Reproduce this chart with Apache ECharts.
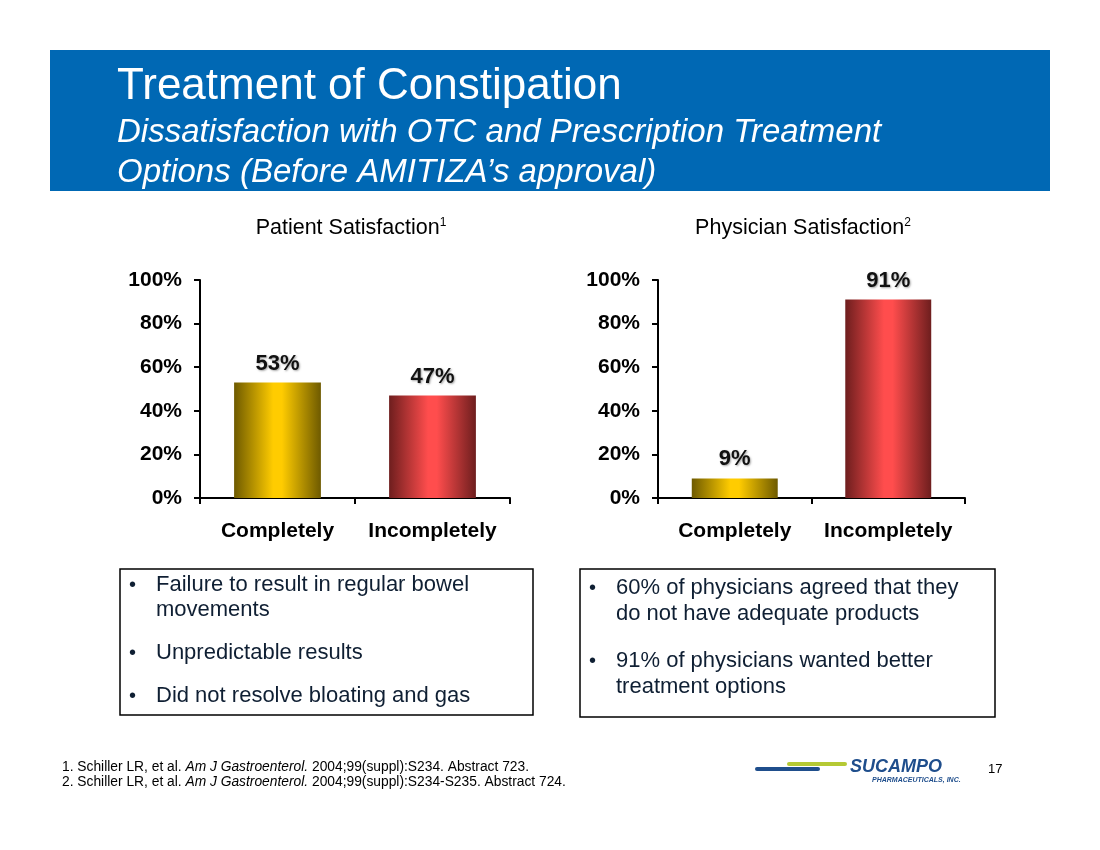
<!DOCTYPE html>
<html><head><meta charset="utf-8">
<script src="https://cdn.jsdelivr.net/npm/echarts@6/dist/echarts.min.js"></script>
<style>html,body{margin:0;padding:0;background:#fff}#c{width:1100px;height:850px}</style>
</head><body><div id="c"></div>
<script>
const categories = ['Completely', 'Incompletely'];
const patientValues = [53, 47];
const physicianValues = [9, 91];
const yTicks = [0, 20, 40, 60, 80, 100];
const patientBullets = ['Failure to result in regular bowel|movements', 'Unpredictable results', 'Did not resolve bloating and gas'];
const physicianBullets = ['60% of physicians agreed that they|do not have adequate products', '91% of physicians wanted better|treatment options'];

const chart = echarts.init(document.getElementById('c'));
const F = 'Arial, "Liberation Sans", sans-serif';
const INK = '#0f1f33';

function grad(edge, mid) {
  return new echarts.graphic.LinearGradient(0, 0, 1, 0, [
    {offset: 0, color: edge}, {offset: 0.45, color: mid}, {offset: 0.55, color: mid}, {offset: 1, color: edge}
  ]);
}
const yellow = grad('#6e5a00', '#ffcc00');
const red = grad('#6e1e1e', '#ff4d4d');

function xAxis(idx) {
  return {
    type: 'category', gridIndex: idx, data: categories,
    axisLine: {lineStyle: {color: '#000', width: 2}},
    axisTick: {show: true, length: 6, lineStyle: {color: '#000', width: 2}},
    axisLabel: {color: '#000', fontFamily: F, fontWeight: 'bold', fontSize: 21, margin: 23, interval: 0, hideOverlap: false}
  };
}
function yAxis(idx) {
  return {
    type: 'value', gridIndex: idx, min: 0, max: 100, interval: 20,
    axisLine: {show: true, lineStyle: {color: '#000', width: 2}},
    axisTick: {show: true, length: 6, lineStyle: {color: '#000', width: 2}},
    splitLine: {show: false},
    axisLabel: {color: '#000', fontFamily: F, fontWeight: 'bold', fontSize: 21, margin: 18,
      formatter: v => yTicks.includes(v) ? v + '%' : ''}
  };
}
function barSeries(idx, vals) {
  return {
    type: 'bar', xAxisIndex: idx, yAxisIndex: idx, barWidth: '56%',
    data: vals.map((v, i) => ({value: v, itemStyle: {color: i === 0 ? yellow : red}})),
    label: {show: true, position: 'top', distance: 8, formatter: '{c}%', color: '#111',
      fontFamily: F, fontWeight: 'bold', fontSize: 22,
      textShadowColor: 'rgba(0,0,0,0.35)', textShadowBlur: 2, textShadowOffsetX: 1, textShadowOffsetY: 1}
  };
}

function bulletBox(x, y, w, h, items, first, lh, gap) {
  const children = [{type: 'rect', shape: {x: x, y: y, width: w, height: h},
    style: {fill: '#fff', stroke: '#000', lineWidth: 1.5}}];
  let ty = first;
  items.forEach((t) => {
    const lines = t.split('|');
    children.push({type: 'text', x: x + 9, y: ty, style: {text: '•', font: '20px ' + F, fill: INK, verticalAlign: 'middle'}});
    lines.forEach((ln, j) => {
      children.push({type: 'text', x: x + 36, y: ty + j * lh, style: {text: ln, font: '22px ' + F, fill: INK, verticalAlign: 'middle'}});
    });
    ty += (lines.length - 1) * lh + gap;
  });
  return {type: 'group', children: children};
}

const rt = (size) => ({a: {font: size + 'px ' + F, color: INK}, s: {font: '12px ' + F, color: INK, padding: [0, 0, 10, 0]}});

chart.setOption({
  animation: false,
  grid: [
    {left: 200, top: 280, width: 310, height: 218},
    {left: 658, top: 280, width: 307, height: 218}
  ],
  xAxis: [xAxis(0), xAxis(1)],
  yAxis: [yAxis(0), yAxis(1)],
  series: [barSeries(0, patientValues), barSeries(1, physicianValues)],
  graphic: [
    {type: 'rect', shape: {x: 50, y: 50, width: 1000, height: 141}, style: {fill: '#0068b4'}},
    {type: 'text', x: 117, y: 87, style: {text: 'Treatment of Constipation', font: '44px ' + F, fill: '#fff', verticalAlign: 'middle'}},
    {type: 'text', x: 117, y: 133, style: {text: 'Dissatisfaction with OTC and Prescription Treatment', font: 'italic 33px ' + F, fill: '#fff', verticalAlign: 'middle'}},
    {type: 'text', x: 117, y: 173, style: {text: 'Options (Before AMITIZA\u2019s approval)', font: 'italic 33px ' + F, fill: '#fff', verticalAlign: 'middle'}},
    {type: 'text', x: 351, y: 228, style: {
      text: '{a|Patient Satisfaction}{s|1}', align: 'center', verticalAlign: 'middle', rich: rt(21.5)}},
    {type: 'text', x: 803, y: 228, style: {
      text: '{a|Physician Satisfaction}{s|2}', align: 'center', verticalAlign: 'middle', rich: rt(21.5)}},
    bulletBox(120, 569, 413, 146, patientBullets, 585, 25, 43),
    bulletBox(580, 569, 415, 148, physicianBullets, 588, 26, 47),
    {type: 'text', x: 62, y: 767, style: {verticalAlign: 'middle',
      text: '{n|1. Schiller LR, et al. }{i|Am J Gastroenterol.}{n| 2004;99(suppl):S234. Abstract 723.}',
      rich: {n: {font: '13.8px ' + F, color: '#000'}, i: {font: 'italic 13.8px ' + F, color: '#000'}}}},
    {type: 'text', x: 62, y: 782, style: {verticalAlign: 'middle',
      text: '{n|2. Schiller LR, et al. }{i|Am J Gastroenterol.}{n| 2004;99(suppl):S234-S235. Abstract 724.}',
      rich: {n: {font: '13.8px ' + F, color: '#000'}, i: {font: 'italic 13.8px ' + F, color: '#000'}}}},
    {type: 'line', shape: {x1: 757, y1: 769, x2: 818, y2: 769}, style: {stroke: '#1f4e8c', lineWidth: 4, lineCap: 'round'}},
    {type: 'line', shape: {x1: 789, y1: 764, x2: 845, y2: 764}, style: {stroke: '#b5c934', lineWidth: 4, lineCap: 'round'}},
    {type: 'text', x: 850, y: 767, style: {text: 'SUCAMPO', font: 'italic bold 18px ' + F, fill: '#1f4e8c', verticalAlign: 'middle'}},
    {type: 'text', x: 872, y: 780, style: {text: 'PHARMACEUTICALS, INC.', font: 'italic bold 7px ' + F, fill: '#1f4e8c', verticalAlign: 'middle'}},
    {type: 'text', x: 988, y: 769, style: {text: '17', font: '13px ' + F, fill: '#000', verticalAlign: 'middle'}}
  ]
});
</script></body></html>
